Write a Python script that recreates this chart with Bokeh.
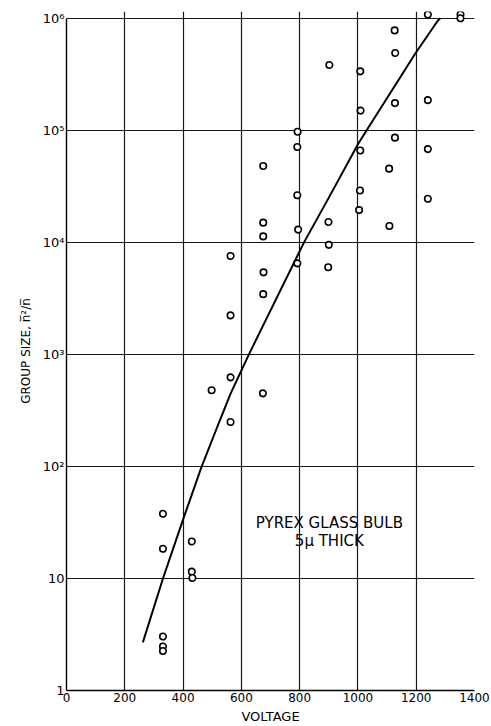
from bokeh.plotting import figure
from bokeh.models import FixedTicker, Range1d
from bokeh.core.properties import value
from bokeh.embed import file_html
from bokeh.resources import INLINE

# ---- data ----
pt_voltage = [1240, 1352, 1352, 1126, 1128, 902, 1008, 1009, 1127, 1240,
              793, 792, 1127, 1008, 1240, 675, 1107, 792, 1007, 1004,
              1240, 675, 675, 795, 899, 1108, 900, 792, 898, 676,
              675, 674, 563, 563, 563, 498, 563, 331, 331, 430,
              430, 432, 331, 331, 331]
pt_size = [1.08e6, 1.08e6, 1.0e6, 7.8e5, 4.9e5, 3.83e5, 3.36e5, 1.5e5, 1.75e5, 1.86e5,
           9.7e4, 7.1e4, 8.6e4, 6.6e4, 6.8e4, 4.8e4, 4.55e4, 2.63e4, 2.9e4, 1.94e4,
           2.45e4, 1.5e4, 1.13e4, 1.3e4, 1.52e4, 1.4e4, 9.5e3, 6.5e3, 6.0e3, 5.4e3,
           3.45e3, 449, 7.56e3, 2.23e3, 624, 479, 249, 37.8, 18.4, 21.4,
           11.5, 10.1, 3.03, 2.47, 2.25]

curve_voltage = [262, 331, 399, 463, 526, 563, 626, 815, 895, 1001, 1030, 1198, 1274, 1282]
curve_size = [2.69, 10, 33, 98.6, 257, 447, 1000, 1.0e4, 2.37e4, 7.59e4, 1.0e5, 4.9e5, 9.5e5, 1.0e6]

x_ticks = [0, 200, 400, 600, 800, 1000, 1200, 1400]
y_ticks = [1, 10, 100, 1000, 10000, 100000, 1000000]
y_tick_labels = ["1", "10", "10\u00b2", "10\u00b3", "10\u2074", "10\u2075", "10\u2076"]

note_x = [902, 902]
note_y = [31.4, 21.8]
note_text = ["PYREX GLASS BULB", "5\u03bc THICK"]

FONT = "DejaVu Sans"

p = figure(width=491, height=726, output_backend="svg", toolbar_location=None,
           y_axis_type="log",
           x_range=Range1d(0, 1400), y_range=Range1d(1, 1.15e6),
           min_border_left=66, min_border_right=17,
           min_border_top=11, min_border_bottom=36)
p.outline_line_color = None
p.background_fill_color = "white"
p.border_fill_color = "white"

# axes
p.xaxis.ticker = FixedTicker(ticks=x_ticks)
p.yaxis.ticker = FixedTicker(ticks=y_ticks)
p.yaxis.major_label_overrides = {t: l for t, l in zip(y_ticks, y_tick_labels)}
for ax in (p.xaxis, p.yaxis):
    ax.major_tick_line_color = None
    ax.minor_tick_line_color = None
    ax.major_tick_out = 0
    ax.major_tick_in = 0
    ax.minor_tick_out = 0
    ax.minor_tick_in = 0
    ax.axis_line_color = "black"
    ax.axis_line_width = 1.4
    ax.major_label_text_font = FONT
    ax.major_label_text_color = "black"
    ax.axis_label_text_font = FONT
    ax.axis_label_text_font_style = "normal"
    ax.axis_label_text_color = "black"
p.xaxis.major_label_text_font_size = "12px"
p.yaxis.major_label_text_font_size = "13px"
p.xaxis.axis_label_text_font_size = "13px"
p.yaxis.axis_label_text_font_size = "12px"
p.yaxis.bounds = (1, 1e6)
p.xaxis.major_label_standoff = 2
p.xaxis.axis_label_standoff = 4
p.yaxis.major_label_standoff = 2
p.yaxis.axis_label_standoff = 7
p.xaxis.axis_label = "VOLTAGE"
p.yaxis.axis_label = "GROUP SIZE, n\u0305\u00b2/n\u0305"

# grid
p.xgrid.ticker = FixedTicker(ticks=x_ticks)
p.ygrid.ticker = FixedTicker(ticks=y_ticks)
p.xgrid.bounds = (1, 1e6)
for g in (p.xgrid, p.ygrid):
    g.grid_line_color = "black"
    g.grid_line_width = 1.2
    g.grid_line_alpha = 0.9
p.ygrid.minor_grid_line_color = None

# curve
p.line(curve_voltage, curve_size, line_color="black", line_width=2)

# points
p.scatter(pt_voltage, pt_size, marker="circle", size=6.5, fill_color="white",
          line_color="black", line_width=1.6)

# annotation
p.text(note_x, note_y, text=note_text, text_font=value(FONT), text_font_size="15px",
       text_align="center", text_baseline="middle", text_color="black")

open("out.html", "w").write(file_html(p, INLINE))
